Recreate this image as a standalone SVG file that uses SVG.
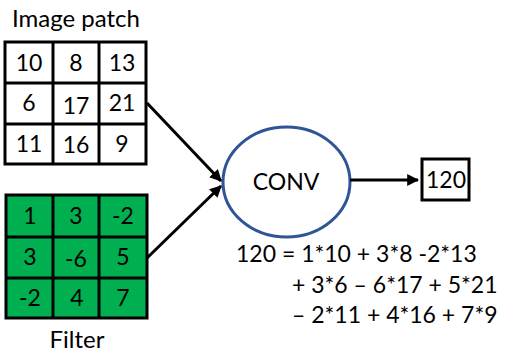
<svg xmlns="http://www.w3.org/2000/svg" width="507" height="352" viewBox="0 0 507 352">
<defs>
<marker id="ah" viewBox="0 0 10 10" refX="9" refY="5" markerWidth="4" markerHeight="4" orient="auto" markerUnits="strokeWidth"><path d="M0,0 L10,5 L0,10 z" fill="#000"/></marker>
<style>
text{font-family:Lato,"Liberation Sans",sans-serif;fill:#000}
.c{font-size:23px;text-anchor:middle}
.g{stroke:#000;stroke-width:3;fill:none}
.w{fill:#fff}
.gr{fill:#00B050}
</style>
</defs>
<rect width="507" height="352" fill="#fff"/>
<g id="patch">
<text x="12" y="27" font-size="24">Image patch</text>
<rect x="5" y="42" width="141" height="122" class="g w"/>
<path class="g" d="M53,42V164M99,42V164M5,83H146M5,124H146"/>
<text class="c" x="29" y="71">10</text><text class="c" x="76" y="71">8</text><text class="c" x="122" y="71">13</text>
<text class="c" x="29" y="111">6</text><text class="c" x="76" y="114">17</text><text class="c" x="122" y="111">21</text>
<text class="c" x="29" y="152">11</text><text class="c" x="76" y="153">16</text><text class="c" x="122" y="152">9</text>
</g>
<g id="filter">
<rect x="6" y="195" width="141" height="123" class="g gr"/>
<path class="g" d="M53,195V318M99,195V318M6,237H147M6,278H147"/>
<text class="c" x="30" y="224">1</text><text class="c" x="76" y="224">3</text><text class="c" x="123" y="224">-2</text>
<text class="c" x="30" y="265">3</text><text class="c" x="76" y="267">-6</text><text class="c" x="123" y="265">5</text>
<text class="c" x="30" y="306">-2</text><text class="c" x="77" y="306">4</text><text class="c" x="123" y="306">7</text>
<text x="77" y="348" font-size="24" text-anchor="middle">Filter</text>
</g>
<g id="conv">
<ellipse cx="286.5" cy="182" rx="63.5" ry="55" fill="#fff" stroke="#2F5597" stroke-width="3"/>
<text x="286" y="190" font-size="23" text-anchor="middle">CONV</text>
</g>
<g id="out">
<rect x="422" y="159" width="47" height="41" class="g w"/>
<text x="446" y="188" font-size="23" text-anchor="middle">120</text>
</g>
<g id="connectors" stroke="#000" stroke-width="3" fill="none">
<line x1="147" y1="103" x2="221" y2="181" marker-end="url(#ah)"/>
<line x1="147" y1="258" x2="221" y2="186" marker-end="url(#ah)"/>
<line x1="350" y1="180" x2="418" y2="180" marker-end="url(#ah)"/>
</g>
<g id="equation">
<text x="236" y="262" font-size="23">120 = 1*10 + 3*8 -2*13</text>
<text x="292" y="293" font-size="23">+ 3*6 – 6*17 + 5*21</text>
<text x="292" y="323" font-size="23">– 2*11 + 4*16 + 7*9</text>
</g>
</svg>
